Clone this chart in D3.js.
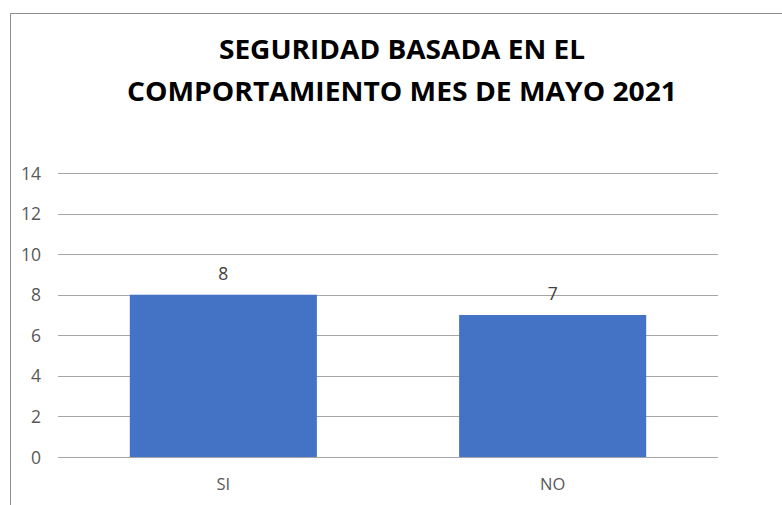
<!DOCTYPE html>
<html><head><meta charset="utf-8">
<script src="https://cdn.jsdelivr.net/npm/d3@7"></script>
<style>body{margin:0;background:#fff}svg{display:block}</style>
</head><body>
<svg id="c" width="782" height="505"></svg>
<script>
const categories = ["SI", "NO"];
const values = [8, 7];
const yTicks = [0, 2, 4, 6, 8, 10, 12, 14];
const titleLines = ["SEGURIDAD BASADA EN EL", "COMPORTAMIENTO MES DE MAYO 2021"];

const svg = d3.select("#c");
const font = "'Open Sans', 'Liberation Sans', sans-serif";

// chart frame
svg.append("path").attr("d", "M10.5,505 L10.5,13.5 L782,13.5")
  .attr("fill", "none").attr("stroke", "#8c8c8c").attr("stroke-width", 1);

const m = {left: 58, right: 718, top: 173, bottom: 457};
const x = d3.scaleBand().domain(categories).range([m.left, m.right])
  .paddingInner(0.432).paddingOuter(0.218);
const y = d3.scaleLinear().domain([0, 14]).range([m.bottom, m.top]);

// gridlines
svg.append("g").selectAll("line").data(yTicks).join("line")
  .attr("x1", m.left).attr("x2", m.right)
  .attr("y1", d => Math.round(y(d)) + 0.5).attr("y2", d => Math.round(y(d)) + 0.5)
  .attr("stroke", "#a6a6a6").attr("stroke-width", 1);

// y axis labels
const yAxis = d3.axisLeft(y).tickValues(yTicks).tickSize(0).tickPadding(0);
const gy = svg.append("g").attr("transform", "translate(41,0)").call(yAxis);
gy.select(".domain").remove();
gy.selectAll("text").attr("font-family", font).attr("font-size", 17.5)
  .attr("fill", "#595959").attr("dy", "0.35em");

// bars
svg.append("g").selectAll("rect").data(values).join("rect")
  .attr("x", (d, i) => x(categories[i])).attr("width", x.bandwidth())
  .attr("y", d => y(d)).attr("height", d => y(0) - y(d))
  .attr("fill", "#4472C4");

// data labels
svg.append("g").selectAll("text").data(values).join("text")
  .attr("x", (d, i) => x(categories[i]) + x.bandwidth() / 2)
  .attr("y", d => y(d) - 15)
  .attr("text-anchor", "middle").attr("font-family", font).attr("font-size", 17.5)
  .attr("fill", "#404040").text(d => d);

// x axis labels
const xAxis = d3.axisBottom(x).tickSize(0).tickPadding(0);
const gx = svg.append("g").attr("transform", "translate(0,478)").call(xAxis);
gx.select(".domain").remove();
gx.selectAll("text").attr("font-family", font).attr("font-size", 16.5)
  .attr("fill", "#595959").attr("dy", "0.71em");

// title
const tw = [366, 550];
svg.append("g").selectAll("text").data(titleLines).join("text")
  .attr("x", 402).attr("y", (d, i) => 59 + i * 42)
  .attr("text-anchor", "middle").attr("font-family", font).attr("font-weight", "bold")
  .attr("font-size", 26).attr("fill", "#000")
  .attr("textLength", (d, i) => tw[i]).attr("lengthAdjust", "spacingAndGlyphs")
  .text(d => d);
</script>
</body></html>
